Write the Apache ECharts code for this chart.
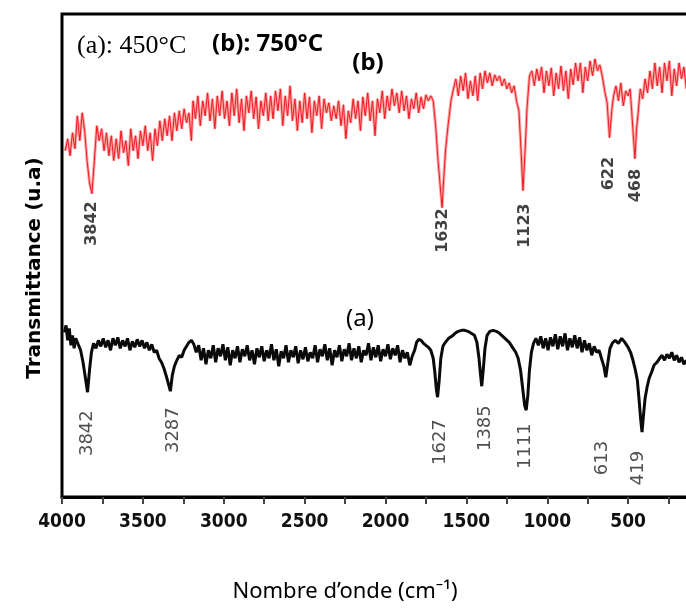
<!DOCTYPE html>
<html>
<head>
<meta charset="utf-8">
<script src="https://cdn.jsdelivr.net/npm/echarts/dist/echarts.min.js"></script>
<style>
html,body{margin:0;padding:0;background:#fff;}
#chart{width:686px;height:614px;}
</style>
</head>
<body>
<div id="chart"></div>
<script>
// x axis: wavenumber (cm-1), y: transmittance (arbitrary units)
const xTicks = [4000, 3500, 3000, 2500, 2000, 1500, 1000, 500];

// spectrum (b) 750°C : [wavenumber, transmittance]
const spectrumB = [
[3980,347],[3965,359],[3950,342],[3935,365],[3920,349],[3905,382],[3890,357],[3875,385],[3860,367],[3845,337],
[3830,315],[3815,304],[3800,337],[3785,372],[3770,357],[3755,369],[3740,347],[3725,365],[3710,342],[3695,362],
[3680,337],[3665,359],[3650,339],[3635,367],[3620,345],[3605,357],[3590,332],[3575,369],[3560,347],[3545,362],
[3530,339],[3515,367],[3500,352],[3485,372],[3470,347],[3455,365],[3440,337],[3425,369],[3410,352],[3395,377],
[3380,357],[3365,379],[3350,362],[3335,382],[3320,357],[3305,385],[3290,367],[3275,387],[3260,369],[3245,389],
[3230,375],[3215,385],[3200,357],[3190,397],[3175,379],[3160,402],[3145,372],[3130,397],[3115,382],[3100,405],
[3085,377],[3070,399],[3055,369],[3040,402],[3025,382],[3010,407],[2995,379],[2980,397],[2965,372],[2950,405],
[2935,382],[2920,409],[2905,375],[2890,399],[2875,367],[2860,402],[2845,385],[2830,407],[2815,379],[2800,401],
[2785,369],[2770,397],[2755,382],[2740,405],[2725,377],[2710,402],[2695,379],[2680,407],[2665,387],[2650,409],
[2635,372],[2620,402],[2605,382],[2590,412],[2575,377],[2560,399],[2545,367],[2530,397],[2515,375],[2500,405],
[2485,379],[2470,401],[2455,365],[2440,397],[2425,382],[2410,402],[2395,369],[2380,399],[2365,385],[2350,395],
[2335,377],[2320,392],[2305,379],[2290,397],[2275,372],[2260,393],[2245,359],[2230,387],[2215,375],[2200,399],
[2185,379],[2170,397],[2155,367],[2140,401],[2125,382],[2110,405],[2095,377],[2080,397],[2065,362],[2050,399],
[2035,385],[2020,407],[2005,379],[1990,402],[1975,387],[1960,409],[1945,392],[1930,405],[1915,385],[1900,407],
[1885,387],[1870,402],[1855,379],[1840,399],[1825,389],[1810,405],[1795,385],[1780,401],[1765,389],[1750,403],
[1735,397],[1720,402],[1705,397],[1690,372],[1675,337],[1662,312],[1650,290],[1640,319],[1628,349],[1612,374],
[1595,397],[1580,409],[1565,419],[1550,402],[1535,422],[1520,407],[1505,425],[1490,399],[1475,417],[1460,402],
[1445,422],[1430,397],[1415,425],[1400,409],[1385,427],[1370,415],[1355,425],[1340,412],[1325,423],[1310,417],
[1295,422],[1280,412],[1265,419],[1250,409],[1235,415],[1220,405],[1205,412],[1190,397],[1175,387],[1162,347],
[1150,307],[1137,347],[1125,390],[1110,422],[1095,427],[1080,412],[1065,429],[1050,417],[1035,431],[1020,405],
[1005,427],[990,412],[975,430],[960,402],[945,425],[930,409],[915,432],[900,407],[885,427],[870,399],
[855,429],[840,413],[825,435],[810,417],[795,435],[780,405],[765,431],[750,417],[735,437],[720,422],
[705,439],[690,427],[675,433],[660,422],[645,407],[630,395],[615,360],[600,389],[590,402],[575,412],
[560,397],[545,415],[530,392],[515,407],[500,402],[488,409],[478,387],[468,362],[458,339],[448,369],
[438,385],[425,409],[410,399],[395,419],[380,405],[365,427],[350,409],[335,435],[320,412],[305,431],
[290,405],[275,435],[260,417],[245,437],[230,402],[215,429],[200,412],[185,435],[170,419],[155,431],[140,409]
];

// spectrum (a) 450°C : [wavenumber, transmittance]
const spectrumA = [
[3985,165],[3975,172],[3965,157],[3955,169],[3945,152],[3935,162],[3925,149],[3915,159],[3905,155],[3895,157],
[3885,147],[3870,135],[3855,119],[3842,105],[3830,127],[3818,145],[3805,154],[3790,149],[3775,157],[3760,151],
[3745,159],[3730,150],[3715,157],[3700,147],[3685,159],[3670,152],[3655,160],[3640,149],[3625,157],[3610,151],
[3595,159],[3580,147],[3565,156],[3550,150],[3535,158],[3520,151],[3505,157],[3490,149],[3475,155],[3460,147],
[3445,153],[3430,145],[3415,147],[3400,139],[3385,135],[3370,129],[3355,121],[3340,112],[3330,106],[3318,122],
[3305,131],[3290,137],[3275,142],[3260,140],[3245,147],[3230,151],[3215,155],[3200,157],[3185,153],[3170,145],
[3155,152],[3140,137],[3125,149],[3110,133],[3095,147],[3080,139],[3065,152],[3050,135],[3035,149],[3020,141],
[3005,153],[2990,137],[2975,150],[2960,132],[2945,147],[2930,139],[2915,151],[2900,135],[2885,148],[2870,141],
[2855,152],[2840,137],[2825,147],[2810,133],[2795,149],[2780,140],[2765,151],[2750,136],[2735,147],[2720,139],
[2705,153],[2690,137],[2675,148],[2660,131],[2645,146],[2630,139],[2615,152],[2600,135],[2585,147],[2570,140],
[2555,151],[2540,134],[2525,147],[2510,138],[2495,150],[2480,136],[2465,145],[2450,139],[2435,152],[2420,135],
[2405,148],[2390,141],[2375,153],[2360,137],[2345,149],[2330,132],[2315,147],[2300,140],[2285,152],[2270,136],
[2255,148],[2240,141],[2225,154],[2210,137],[2195,149],[2180,139],[2165,151],[2150,135],[2135,147],[2120,142],
[2105,154],[2090,137],[2075,150],[2060,140],[2045,152],[2030,136],[2015,148],[2000,141],[1985,153],[1970,138],
[1955,149],[1940,142],[1925,152],[1910,135],[1895,147],[1880,139],[1865,145],[1850,132],[1835,141],[1820,147],
[1808,155],[1795,158],[1780,157],[1765,154],[1750,152],[1735,150],[1720,147],[1705,139],[1695,125],[1685,107],
[1678,100],[1668,117],[1658,139],[1645,151],[1630,155],[1610,159],[1590,161],[1570,164],[1550,166],[1530,167],
[1510,167],[1490,166],[1470,164],[1450,162],[1435,155],[1422,139],[1412,122],[1405,111],[1396,127],[1385,149],
[1372,162],[1355,166],[1335,167],[1315,166],[1295,164],[1275,161],[1255,158],[1235,155],[1215,150],[1195,145],
[1180,139],[1165,127],[1152,109],[1140,92],[1130,87],[1120,102],[1110,127],[1098,145],[1085,154],[1070,159],
[1055,152],[1040,161],[1025,149],[1010,159],[995,147],[980,160],[965,151],[950,163],[935,148],[920,161],
[905,151],[890,164],[875,147],[860,159],[845,150],[830,162],[815,149],[800,160],[785,145],[770,157],
[755,147],[740,154],[725,142],[710,151],[695,145],[680,147],[665,139],[650,131],[638,120],[625,135],
[612,149],[598,154],[580,157],[560,154],[540,159],[520,155],[500,150],[485,145],[470,137],[455,127],
[443,117],[432,97],[422,77],[414,65],[405,82],[395,99],[383,110],[370,119],[355,125],[340,132],
[322,135],[305,139],[290,142],[275,137],[260,143],[245,139],[230,145],[215,137],[200,142],[185,135],
[170,140],[155,133],[140,137]
];

// peak labels
const peaksB = ['3842', '1632', '1123', '622', '468'];
const peaksA = ['3842', '3287', '1627', '1385', '1111', '613', '419'];
// where each label sits in data units [wavenumber, transmittance]
const peaksBAt = [[3815,274],[1645,267],[1138,272],[618,324],[451,312]];
const peaksAAt = [[3845,64],[3314,67],[1663,55],[1385,69],[1138,51],[662,39],[439,29]];

const chart = echarts.init(document.getElementById('chart'), null, {renderer: 'canvas'});

const option = {
  animation: false,
  backgroundColor: '#ffffff',
  grid: {
    left: 62, right: -23, top: 14, bottom: 117,
    containLabel: false, outerBoundsMode: 'none',
    show: true, borderColor: '#000', borderWidth: 3, backgroundColor: 'transparent'
  },
  xAxis: {
    type: 'value', inverse: true, min: 0, max: 4000, interval: 500,
    axisLine: {show: true, lineStyle: {color: '#000', width: 3}},
    axisTick: {show: true, length: 7, lineStyle: {color: '#444', width: 2}},
    minorTick: {show: true, splitNumber: 2, length: 7, lineStyle: {color: '#444', width: 2}},
    splitLine: {show: false},
    axisLabel: {
      margin: 16, color: '#111', fontSize: 19, fontWeight: 'bold',
      fontFamily: "'Liberation Sans Narrow', 'DejaVu Sans Condensed', 'Liberation Sans', sans-serif",
      formatter: function (v) { return xTicks.indexOf(v) >= 0 ? String(v) : ''; }
    }
  },
  yAxis: {
    type: 'value', min: 0, max: 484,
    axisLine: {show: false}, axisTick: {show: false}, axisLabel: {show: false}, splitLine: {show: false}
  },
  series: [
    {
      name: '(b) 750°C halo', type: 'line', data: spectrumB, showSymbol: false, silent: true,
      lineStyle: {color: '#ffa3a3', width: 3}, z: 2
    },
    {
      name: '(b) 750°C', type: 'line', data: spectrumB, showSymbol: false, silent: true,
      lineStyle: {color: '#ec1c24', width: 1}, z: 3
    },
    {
      name: '(a) 450°C', type: 'line', data: spectrumA, showSymbol: false, silent: true,
      lineStyle: {color: '#0a0a0a', width: 3}, z: 3
    },
    {
      name: 'peaks b', type: 'scatter', silent: true, symbolSize: 1,
      itemStyle: {color: 'rgba(0,0,0,0)'},
      data: peaksB.map((t, i) => ({name: t, value: peaksBAt[i]})),
      label: {
        show: true, formatter: '{b}', position: 'inside', rotate: 90,
        color: '#111', fontSize: 16, fontWeight: 'bold', fontFamily: "'DejaVu Sans', sans-serif"
      },
      z: 5
    },
    {
      name: 'peaks a', type: 'scatter', silent: true, symbolSize: 1,
      itemStyle: {color: 'rgba(0,0,0,0)'},
      data: peaksA.map((t, i) => ({name: t, value: peaksAAt[i]})),
      label: {
        show: true, formatter: '{b}', position: 'inside', rotate: 90,
        color: '#222', fontSize: 18, fontWeight: 'normal', fontFamily: "'DejaVu Sans', sans-serif"
      },
      z: 5
    }
  ],
  graphic: [
    {type: 'text', left: 77, top: 33, z: 10,
     style: {text: '(a): 450°C', font: "26px 'Liberation Serif', serif", fill: '#000'}},
    {type: 'text', left: 212, top: 32, z: 10,
     style: {text: '(b): 750°C', font: "bold 24px 'Noto Sans', sans-serif", fill: '#000'}},
    {type: 'text', x: 368, y: 63, z: 10,
     style: {text: '(b)', font: "bold 24px 'Noto Sans', sans-serif", fill: '#000', textAlign: 'center', textVerticalAlign: 'middle'}},
    {type: 'text', x: 360, y: 319, z: 10,
     style: {text: '(a)', font: "24px 'Noto Sans', sans-serif", fill: '#000', textAlign: 'center', textVerticalAlign: 'middle'}},
    {type: 'text', x: 35, y: 268, rotation: Math.PI / 2, z: 10,
     style: {text: 'Transmittance (u.a)', font: "bold 20px 'DejaVu Sans', sans-serif", fill: '#000', textAlign: 'center', textVerticalAlign: 'middle'}},
    {type: 'text', x: 345, y: 592, z: 10,
     style: {text: 'Nombre d’onde (cm⁻¹)', font: "22px 'Noto Sans', sans-serif", fill: '#000', textAlign: 'center', textVerticalAlign: 'middle'}}
  ]
};
chart.setOption(option);
</script>
</body>
</html>
